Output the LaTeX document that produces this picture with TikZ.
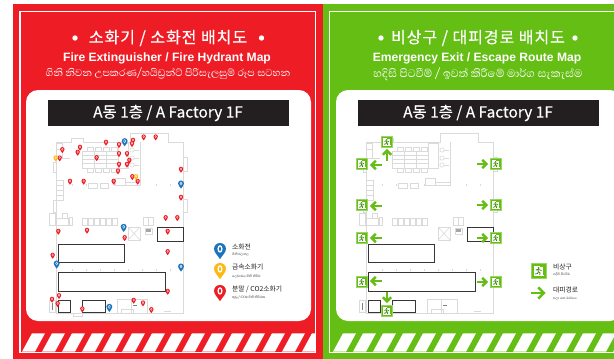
\documentclass[tikz,border=0pt]{standalone}
\usepackage{fontspec}
\setmainfont{Liberation Sans}
\newfontfamily\kr{Noto Sans CJK KR}[FakeBold=0.25]
\newfontfamily\krl{Noto Sans CJK KR}
\newfontfamily\krm{Noto Sans CJK KR}[LetterSpace=6,FakeBold=0.4]
\newfontfamily\si[Script=Sinhala]{Abhaya Libre}
\newfontfamily\sil[Script=Sinhala]{Abhaya Libre}
\newfontfamily\en{Liberation Sans Bold}
\definecolor{firered}{HTML}{EE1C25}
\definecolor{exitgreen}{HTML}{64BE14}
\definecolor{barblack}{HTML}{231F20}
\definecolor{hydrant}{HTML}{1C75BC}
\definecolor{metal}{HTML}{FDB813}
\definecolor{planline}{HTML}{DADADA}
\definecolor{figgreen}{HTML}{3F8A10}
\tikzset{
  titletxt/.style={text=white,inner sep=0pt,font=\krm\fontsize{16}{17}\selectfont},
  subtxt/.style={text=white,inner sep=0pt,font=\en\fontsize{12.1}{14}\selectfont},
  sitxt/.style={text=white,inner sep=0pt,font=\si\fontsize{12.7}{14}\selectfont},
  bartxt/.style={text=white,inner sep=0pt,font=\kr\fontsize{15.4}{17}\selectfont},
  legkr/.style={text=barblack,anchor=west,inner sep=0pt,font=\krl\fontsize{6.8}{7}\selectfont},
  legsi/.style={text=barblack,anchor=west,inner sep=0pt,font=\sil\fontsize{4}{5}\selectfont},
  wall/.style={draw=planline,line width=0.55pt},
  solidbox/.style={draw=barblack!90,line width=1pt,fill=white},
  pics/pin/.style={code={
    \fill[#1] (0,3.4) .. controls (-0.8,2) and (-2.2,1) .. (-2.2,-0.4) .. controls (-2.2,-1.7) and (-1.2,-2.6) .. (0,-2.6) .. controls (1.2,-2.6) and (2.2,-1.7) .. (2.2,-0.4) .. controls (2.2,1) and (0.8,2) .. (0,3.4) -- cycle;
    \fill[white] (0,-0.4) ellipse (0.95 and 1.4);
    \fill[#1] (0,-0.4) ellipse (0.35 and 0.85);
  }},
  pics/runarrow/.style={code={
    \draw[exitgreen,line width=2.5pt] (-5.5,0) -- (3.8,0);
    \draw[exitgreen,line width=2.5pt] (0.2,-4.2) -- (4.4,0) -- (0.2,4.2);
  }},
  pics/exitsign/.style={code={
    \fill[exitgreen!65] (-6.2,-6.2) rectangle (6.2,6.2);
    \fill[exitgreen] (-5.5,-5.5) rectangle (5.5,5.5);
    \fill[white] (-4.2,-4.2) rectangle (4.2,4.2);
    \draw[exitgreen,line width=0.8pt] (0.5,-3.5) -- (3.4,-3.5) -- (3.4,3.5);
    \fill[figgreen] (-0.4,-2.4) circle (0.8);
    \draw[figgreen,line width=0.7pt] (-2.6,-0.6) -- (-1.2,-1.3) -- (0.8,-0.9) -- (2,-0.2);
    \draw[figgreen,line width=0.8pt] (-0.9,-1.2) -- (-0.5,0.6) -- (0.8,1.4) -- (0.6,3.2);
    \draw[figgreen,line width=0.8pt] (-0.5,0.6) -- (-1.2,2) -- (-3,2.4);
  }},
  pics/floorplan/.style={code={
    \draw[wall] (56,142) -- (71,142) -- (71,138) -- (83,138) -- (83,142) -- (130,142) -- (130,133) -- (168,133) -- (168,142) -- (183,142) -- (183,313) -- (56,313) -- cycle;
    \draw[wall] (140,142) -- (140,185);
    % top-left rooms
    \draw[wall] (56,143) rectangle (62,158);
    \draw[wall] (56,149) -- (62,149);
    \draw[wall] (62,158) -- (70,158);
    % production grid
    \draw[wall] (82,151) rectangle (118,168);
    \foreach \r in {155,159,163} \draw[wall] (82,\r) -- (118,\r);
    \foreach \c in {94,106} \draw[wall] (\c,151) -- (\c,168);
    \foreach \c in {87,95,103,111} {\draw[wall] (\c,147) rectangle ++(6,4); \draw[wall] (\c,168) rectangle ++(6,4);}
    % right-hand machine room
    \draw[wall] (118,143) rectangle (128,168);
    \foreach \r in {150,158,165} {\draw[wall] (132,\r) circle (2.2); \draw[wall] (134,\r) -- (139,\r);}
    % mid row
    \draw[wall] (88,183) rectangle (97,188);
    \draw[wall] (100,183) rectangle (108,188);
    \draw[wall] (115,178) rectangle (125,185);
    \draw[wall] (125,182) rectangle (140,185);
    \foreach \c in {72,86,100,114,156,170} \draw[wall] (\c,184) -- (\c,186);
    \foreach \r in {180,185,190,195} \draw[wall] (56,\r) rectangle (63,\r+5);
    % side bumps
    \draw[wall] (183,157) rectangle (187,171);
    \draw[wall] (183,199) rectangle (187,212);
    \draw[wall] (53,162) rectangle (56,172);
    \draw[wall] (53,200) rectangle (56,212);
    \draw[wall] (49,213) rectangle (55,225);
    \draw[wall] (56,218) rectangle (68,225);
    \draw[wall] (62,213) rectangle (67,218);
    \draw[wall] (69,217) rectangle (72,225);
    \foreach \c in {82,88,94,100,106,112} \draw[wall] (\c,218) rectangle ++(5,7);
    \draw[wall] (143,217) rectangle (153,225);
    \draw[wall] (148,217) -- (148,225);
    % X box
    \draw[wall] (128,227) rectangle (140,240);
    \draw[wall] (128,227) -- (140,240) (128,240) -- (140,227);
    \draw[wall] (145,228) rectangle (152,234);
    \fill[gray!70] (146,229) rectangle (151,232);
    % solid blocks
    \draw[solidbox] (58,244) rectangle (124,262);
    \draw[solidbox] (58,272) rectangle (165,291);
    \draw[solidbox] (157,227) rectangle (183,241);
    \draw[solidbox] (58,300) rectangle (70,312);
    \draw[solidbox] (82,300) rectangle (105,312);
    % row of ticks
    \foreach \c in {72,86,100,114,128,142,156,170} \draw[wall] (\c,269) -- (\c,271);
    % bottom left and office
    \draw[wall,fill=white] (49,300) rectangle (55,312);
    \draw[gray,line width=0.7pt] (52,303) -- (52,310);
    \draw[wall] (117,299) rectangle (147,313);
    \draw[wall] (131,299) -- (131,313);
    \draw[wall] (121,309) rectangle (133,313);
    \draw[gray,line width=0.5pt] (133,305) -- (137,305);
    \draw[wall] (73,313) rectangle (82,316);
    \draw[wall] (164,311) -- (171,311);
  }},
}
\begin{document}
\begin{tikzpicture}[x=1pt,y=-1pt]
\useasboundingbox (0,0) rectangle (614,359);
\begin{scope}
\clip (0,0) rectangle (614,359);
% panels
\fill[firered] (13,4) rectangle (323.3,359);
\fill[exitgreen] (323.3,4) rectangle (614,359);
% stripes
\foreach \k in {0,...,14} {
  \begin{scope}
    \clip (21,333.3) rectangle (315,351.7);
    \fill[white] ({22+20*\k},351.7) -- ({32+20*\k},333.3) -- ({45+20*\k},333.3) -- ({35+20*\k},351.7) -- cycle;
  \end{scope}
  \begin{scope}
    \clip (330,333.3) rectangle (614,351.7);
    \fill[white] ({333+20*\k},351.7) -- ({343+20*\k},333.3) -- ({356+20*\k},333.3) -- ({346+20*\k},351.7) -- cycle;
  \end{scope}
}
% inner frames
\draw[white,line width=1.3pt] (20,11.5) rectangle (315.5,352.5);
\draw[white,line width=1.3pt] (620,11.5) -- (329.5,11.5) -- (329.5,352.5) -- (620,352.5);
% white sheets
\fill[white,rounded corners=12pt] (26,90) rectangle (311,321);
\fill[white,rounded corners=12pt] (336,90) rectangle (622,321);
% bars
\fill[barblack] (48,100) rectangle (289,126);
\fill[barblack] (358,100) rectangle (599,126);
\end{scope}
% left header
\node[titletxt] (ltitle) at (168,38) {소화기 / 소화전 배치도};
\fill[white] (75,38) circle (2.7);
\fill[white] (261.5,38) circle (2.7);
\node[subtxt] (lsub) at (167,58) {Fire Extinguisher / Fire Hydrant Map};
\node[sitxt] (lsi) at (168,74) {ගිනි නිවන උපකරණ/හයිඩ්‍රන්ට් පිරිසැලසුම් රූප සටහන};
\node[bartxt] (lbar) at (168,113) {A동 1층 / A Factory 1F};
% right header
\node[titletxt] (rtitle) at (478,38) {비상구 / 대피경로 배치도};
\fill[white] (381,38) circle (2.7);
\fill[white] (575,38) circle (2.7);
\node[subtxt] (rsub) at (477,58) {Emergency Exit / Escape Route Map};
\node[sitxt,font=\si\fontsize{13.9}{15}\selectfont] (rsi) at (478,74) {හදිසි පිටවීම් / ඉවත් කිරීමේ මාර්ග සැකැස්ම};
\node[bartxt] (rbar) at (478,113) {A동 1층 / A Factory 1F};
% plans
\pic at (0,0) {floorplan};
\pic at (310,0) {floorplan};
% pins
\foreach \x/\y in {198/52,237/59,279/46,276/56,311/36,347/36,67/74,120/67,113/82,59/99,170/98,237/86,261/86,268/106,261/118,237/118,234/138,277/155,293/169,90/169,131/169,221/169,423/133,423/217,377/278,412/278}
  \pic at ({40+\x/3},{125+\y/3}) {pin=firered};
\foreach \x/\y in {55/34,141/31,254/53,383/34,383/95,38/106,383/214,57/227,36/238,53/251,281/241,309/249,334/269,127/267}
  \pic at ({40+\x/3},{220+\y/3}) {pin=firered};
\foreach \x/\y in {47/99,288/155}
  \pic at ({40+\x/3},{125+\y/3}) {pin=metal};
\foreach \x/\y in {254/50,423/177}
  \pic[scale=1.35] at ({40+\x/3},{125+\y/3}) {pin=hydrant};
\foreach \x/\y in {251/22,50/132,423/141,208/262}
  \pic[scale=1.35] at ({40+\x/3},{220+\y/3}) {pin=hydrant};
% fire legend
\pic[scale=2.7] at (220,250) {pin=hydrant};
\pic[scale=2.7] at (220,270) {pin=metal};
\pic[scale=2.7] at (220,292) {pin=firered};
\node[legkr] (l1) at (232,247) {소화전};
\node[legsi] (l1s) at (232,255) {ගිනි ජලනල};
\node[legkr] (l2) at (232,267) {금속소화기};
\node[legsi] (l2s) at (232,276) {ලෝහමය ගිනි නිවීම};
\node[legkr] (l3) at (232,289) {분말 / CO2소화기};
\node[legsi] (l3s) at (232,298) {කුඩු / CO2 ගිනි නිවීමක};
% exit signs
\foreach \x/\y in {387/142,362/164,496/164,362/205,496/205,362/238,496/238,362/282,496/282,387/311}
  \pic[scale=0.93] at (\x,\y) {exitsign};
% arrows
\foreach \x/\y in {482/164,482/205,482/238,482/282}
  \pic at (\x,\y) {runarrow};
\foreach \x/\y in {376/165,376/206,376/238,376/281}
  \pic[rotate=180] at (\x,\y) {runarrow};
\pic[rotate=90] at (387,155) {runarrow};
\pic[rotate=-90] at (387,297) {runarrow};
% exit legend
\pic[scale=1.25] at (539,271) {exitsign};
\pic[scale=1.35] at (538,293) {runarrow};
\node[legkr] (e1) at (553,267) {비상구};
\node[legsi] (e1s) at (553,275) {හදිසි පිටවීම};
\node[legkr] (e2) at (553,290) {대피경로};
\node[legsi] (e2s) at (553,298) {පලා යන මාර්ගය};
\end{tikzpicture}
\end{document}
